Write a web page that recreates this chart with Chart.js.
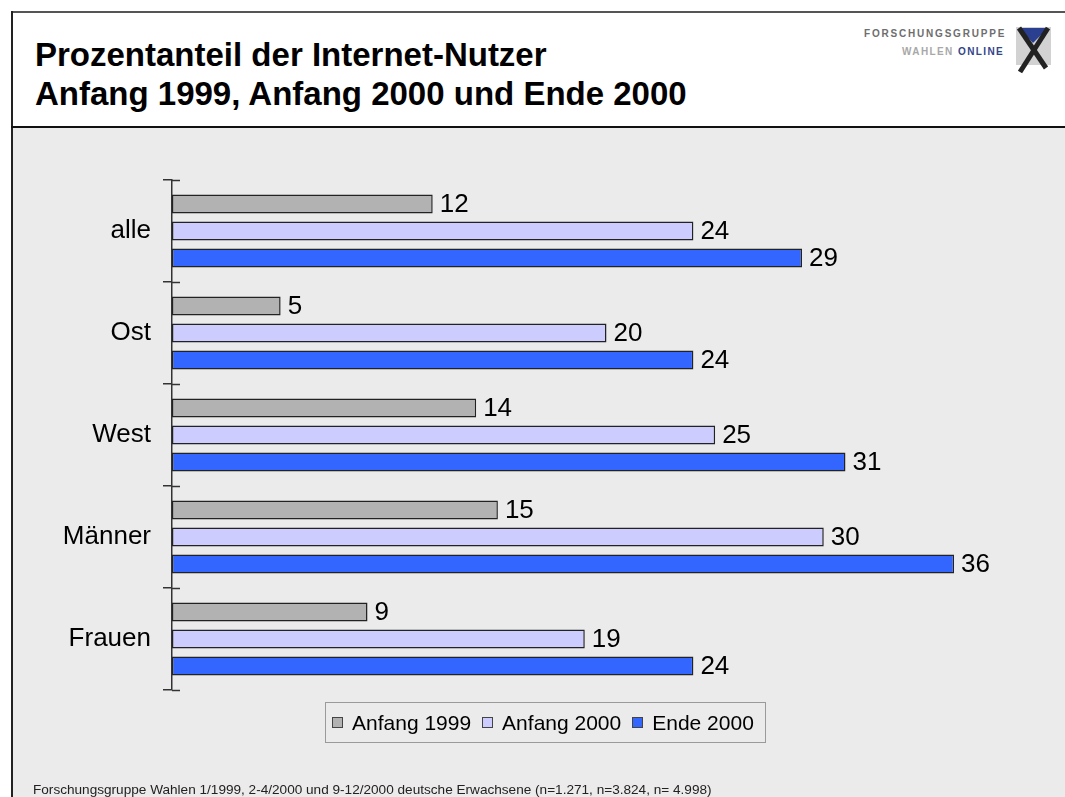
<!DOCTYPE html>
<html>
<head>
<meta charset="utf-8">
<script src="https://cdn.jsdelivr.net/npm/chart.js"></script>
<style>
body { margin: 0; width: 1065px; height: 797px; overflow: hidden; background: #fff; font-family: "Liberation Sans", Arial, sans-serif; position: relative; }
#topline { position: absolute; left: 11px; top: 11px; width: 1054px; height: 2px; background: #555; }
#leftline { position: absolute; left: 11px; top: 11px; width: 2px; height: 786px; background: #222; }
#sepline { position: absolute; left: 11px; top: 126px; width: 1054px; height: 2px; background: #111; }
#plotbg { position: absolute; left: 13px; top: 128px; right: 0; bottom: 0; background: #ebebeb; }
#title { position: absolute; left: 35px; top: 35px; font-size: 33px; font-weight: bold; line-height: 39px; color: #000; }
#logo { position: absolute; left: 860px; top: 24px; }
#chartCanvas { position: absolute; left: 12px; top: 128px; }
#legend { position: absolute; left: 325px; top: 702px; width: 433px; height: 39px; border: 1.5px solid #9a9a9a; font-size: 21px; color: #000; display: flex; align-items: center; padding-left: 6px; box-sizing: content-box; }
#legend .item { display: flex; align-items: center; margin-right: 11px; }
#legend .box { width: 9px; height: 9px; border: 1.5px solid #444; margin-right: 9px; }
#footer { position: absolute; left: 33px; top: 782px; font-size: 13.6px; line-height: 16px; color: #222; white-space: nowrap; }
</style>
</head>
<body>
<div id="plotbg"></div>
<div id="topline"></div>
<div id="leftline"></div>
<div id="sepline"></div>
<div id="title">Prozentanteil der Internet-Nutzer<br>Anfang 1999, Anfang 2000 und Ende 2000</div>
<svg id="logo" width="195" height="52" viewBox="0 0 195 52">
  <text x="4" y="13" font-family="Liberation Sans, Arial" font-size="10" font-weight="bold" fill="#6e6e6e" letter-spacing="1.8">FORSCHUNGSGRUPPE</text>
  <text x="42" y="31" font-family="Liberation Sans, Arial" font-size="10" font-weight="bold" fill="#a8a8a8" letter-spacing="1.4">WAHLEN</text>
  <text x="98" y="31" font-family="Liberation Sans, Arial" font-size="10" font-weight="bold" fill="#34458a" letter-spacing="1.4">ONLINE</text>
  <rect x="156" y="3" width="35" height="38" fill="#d2d2d2"/>
  <polygon points="159,4 188,4 173,19" fill="#2a3f8f"/>
  <line x1="159" y1="4" x2="186" y2="44" stroke="#222" stroke-width="5"/>
  <line x1="188" y1="4" x2="160" y2="48" stroke="#222" stroke-width="5"/>
</svg>
<canvas id="chartCanvas" width="1053" height="669"></canvas>
<div id="legend"></div>
<div id="footer">Forschungsgruppe Wahlen 1/1999, 2-4/2000 und 9-12/2000 deutsche Erwachsene (n=1.271, n=3.824, n= 4.998)</div>
<script>
// data
const categories = ['alle', 'Ost', 'West', 'Männer', 'Frauen'];
const seriesNames = ['Anfang 1999', 'Anfang 2000', 'Ende 2000'];
const anfang1999 = [12, 5, 14, 15, 9];
const anfang2000 = [24, 20, 25, 30, 19];
const ende2000 = [29, 24, 31, 36, 24];

const seriesColors = ['#b2b2b2', '#ccccff', '#3366ff'];
const FONT = '"Liberation Sans", Arial, sans-serif';

// value labels at the end of every bar
const valueLabels = {
id: 'valueLabels',
afterDatasetsDraw(chart) {
const ctx = chart.ctx;
ctx.save();
ctx.font = '26px ' + FONT;
ctx.fillStyle = '#000';
ctx.textBaseline = 'middle';
ctx.textAlign = 'left';
chart.data.datasets.forEach((ds, i) => {
chart.getDatasetMeta(i).data.forEach((bar, j) => {
ctx.fillText(ds.data[j], bar.x + 7, bar.y + 1);
});
});
ctx.restore();
}
};

// tick marks cross the axis in the original, draw the inner half
const innerTicks = {
id: 'innerTicks',
afterDraw(chart) {
const y = chart.scales.y;
const ctx = chart.ctx;
const half = (y.getPixelForValue(1) - y.getPixelForValue(0)) / 2;
ctx.save();
ctx.strokeStyle = '#333';
ctx.lineWidth = 1.5;
for (let i = 0; i <= categories.length; i++) {
const py = Math.round(y.getPixelForValue(i) - half) + 0.5;
ctx.beginPath();
ctx.moveTo(chart.chartArea.left, py);
ctx.lineTo(chart.chartArea.left + 8, py);
ctx.stroke();
}
ctx.restore();
}
};

const datasets = [anfang1999, anfang2000, ende2000].map((values, i) => ({
label: seriesNames[i],
data: values,
backgroundColor: seriesColors[i],
borderColor: '#222',
borderWidth: 1.5,
borderSkipped: false,
categoryPercentage: 0.794,
barPercentage: 0.7
}));

const ctx = document.getElementById('chartCanvas').getContext('2d');
new Chart(ctx, {
type: 'bar',
data: { labels: categories, datasets: datasets },
plugins: [valueLabels, innerTicks],
options: {
indexAxis: 'y',
responsive: false,
animation: false,
devicePixelRatio: 1,
layout: { padding: { top: 52, bottom: 107, left: 0, right: 24 } },
plugins: {
legend: { display: false },
tooltip: { enabled: false }
},
scales: {
x: { display: false, min: 0, max: 40 },
y: {
afterFit(scale) { scale.width = 160; },
border: { color: '#333', width: 1.5 },
grid: { drawOnChartArea: false, drawTicks: true, tickLength: 9, color: '#333', lineWidth: 1.5 },
ticks: { color: '#000', padding: 12, font: { family: FONT, size: 26 } }
}
}
}
});

// legend built from the series names
const legend = document.getElementById('legend');
seriesNames.forEach((name, i) => {
const item = document.createElement('div');
item.className = 'item';
const box = document.createElement('span');
box.className = 'box';
box.style.background = seriesColors[i];
item.appendChild(box);
item.appendChild(document.createTextNode(name));
legend.appendChild(item);
});
</script>
</body>
</html>
